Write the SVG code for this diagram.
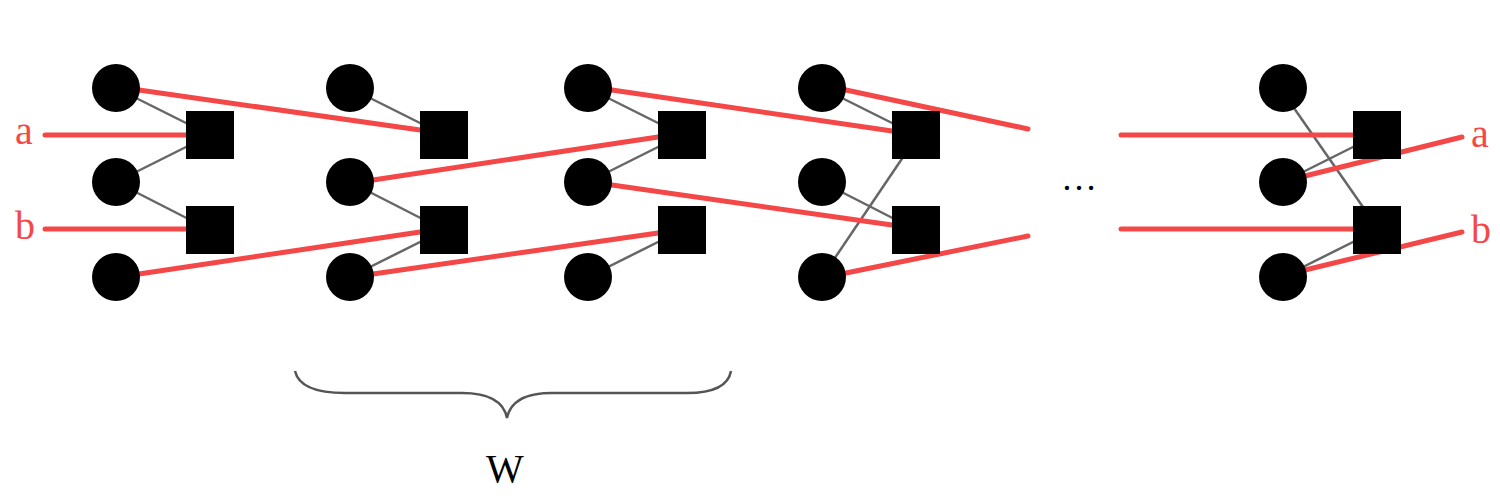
<svg xmlns="http://www.w3.org/2000/svg" width="1500" height="500" viewBox="0 0 1500 500">
<style>
.g{stroke:#666;stroke-width:2.5;fill:none}
.r{stroke:#f44848;stroke-width:5;fill:none;stroke-linecap:round}
.c{fill:#000}
.s{fill:#000}
.brace{stroke:#555;stroke-width:2.5;fill:none}
</style>
<rect width="1500" height="500" fill="#fff"/>
<g id="connectors">
  <g id="gray">
    <line class="g" x1="116" y1="88" x2="210" y2="135"/>
    <line class="g" x1="116" y1="182" x2="210" y2="135"/>
    <line class="g" x1="116" y1="182" x2="210" y2="230"/>
    <line class="g" x1="350" y1="88" x2="444" y2="135"/>
    <line class="g" x1="350" y1="182" x2="444" y2="230"/>
    <line class="g" x1="350" y1="277" x2="444" y2="230"/>
    <line class="g" x1="588" y1="88" x2="682" y2="135"/>
    <line class="g" x1="588" y1="182" x2="682" y2="135"/>
    <line class="g" x1="588" y1="277" x2="682" y2="230"/>
    <line class="g" x1="822" y1="88" x2="916" y2="135"/>
    <line class="g" x1="822" y1="182" x2="916" y2="230"/>
    <line class="g" x1="822" y1="277" x2="918" y2="135"/>
    <line class="g" x1="1280" y1="88" x2="1379" y2="230"/>
    <line class="g" x1="1283" y1="182" x2="1377" y2="135"/>
    <line class="g" x1="1283" y1="277" x2="1377" y2="230"/>
  </g>
  <g id="red">
    <line class="r" x1="45" y1="135" x2="186" y2="135"/>
    <line class="r" x1="45" y1="229" x2="186" y2="229"/>
    <line class="r" x1="139" y1="90" x2="420" y2="130"/>
    <line class="r" x1="139" y1="274" x2="420" y2="232"/>
    <line class="r" x1="373" y1="180" x2="658" y2="137"/>
    <line class="r" x1="373" y1="274" x2="658" y2="233"/>
    <line class="r" x1="612" y1="90" x2="892" y2="131"/>
    <line class="r" x1="612" y1="185" x2="892" y2="225"/>
    <line class="r" x1="846" y1="90" x2="1028" y2="129"/>
    <line class="r" x1="846" y1="273" x2="1028" y2="236"/>
    <line class="r" x1="1121" y1="135" x2="1353" y2="135"/>
    <line class="r" x1="1121" y1="229" x2="1353" y2="229"/>
    <line class="r" x1="1305" y1="176" x2="1462" y2="137"/>
    <line class="r" x1="1305" y1="270" x2="1462" y2="232"/>
  </g>
</g>
<g id="col1">
  <g id="c1a"><circle class="c" cx="116" cy="88" r="24"/></g>
  <g id="c1b"><circle class="c" cx="116" cy="182" r="24"/></g>
  <g id="c1c"><circle class="c" cx="116" cy="277" r="24"/></g>
  <g id="s1a"><rect class="s" x="186" y="111" width="48" height="48"/></g>
  <g id="s1b"><rect class="s" x="186" y="206" width="48" height="48"/></g>
</g>
<g id="col2">
  <g id="c2a"><circle class="c" cx="350" cy="88" r="24"/></g>
  <g id="c2b"><circle class="c" cx="350" cy="182" r="24"/></g>
  <g id="c2c"><circle class="c" cx="350" cy="277" r="24"/></g>
  <g id="s2a"><rect class="s" x="420" y="111" width="48" height="48"/></g>
  <g id="s2b"><rect class="s" x="420" y="206" width="48" height="48"/></g>
</g>
<g id="col3">
  <g id="c3a"><circle class="c" cx="588" cy="88" r="24"/></g>
  <g id="c3b"><circle class="c" cx="588" cy="182" r="24"/></g>
  <g id="c3c"><circle class="c" cx="588" cy="277" r="24"/></g>
  <g id="s3a"><rect class="s" x="658" y="111" width="48" height="48"/></g>
  <g id="s3b"><rect class="s" x="658" y="206" width="48" height="48"/></g>
</g>
<g id="col4">
  <g id="c4a"><circle class="c" cx="822" cy="88" r="24"/></g>
  <g id="c4b"><circle class="c" cx="822" cy="182" r="24"/></g>
  <g id="c4c"><circle class="c" cx="822" cy="277" r="24"/></g>
  <g id="s4a"><rect class="s" x="892" y="111" width="48" height="48"/></g>
  <g id="s4b"><rect class="s" x="892" y="206" width="48" height="48"/></g>
</g>
<g id="col5">
  <g id="c5a"><circle class="c" cx="1283" cy="88" r="24"/></g>
  <g id="c5b"><circle class="c" cx="1283" cy="182" r="24"/></g>
  <g id="c5c"><circle class="c" cx="1283" cy="277" r="24"/></g>
  <g id="s5a"><rect class="s" x="1353" y="111" width="48" height="48"/></g>
  <g id="s5b"><rect class="s" x="1353" y="206" width="48" height="48"/></g>
</g>
<g id="labels" font-family="'Liberation Serif', 'DejaVu Serif', serif">
  <text x="15" y="144" font-size="40" fill="#f44848">a</text>
  <text x="15" y="239" font-size="40" fill="#f44848">b</text>
  <text x="1471" y="147" font-size="40" fill="#f44848">a</text>
  <text x="1471" y="243" font-size="40" fill="#f44848">b</text>
  <text x="1079" y="190" font-size="36" text-anchor="middle" fill="#000">…</text>
</g>
<g id="brace">
  <path class="brace" d="M295,371 Q300,393 345,393 L462,393 Q502,393 507,418 Q512,393 552,393 L687,393 Q727,393 731,371"/>
  <text x="505" y="482" font-size="40" text-anchor="middle" fill="#000" font-family="'Liberation Serif', 'DejaVu Serif', serif">W</text>
</g>
</svg>
